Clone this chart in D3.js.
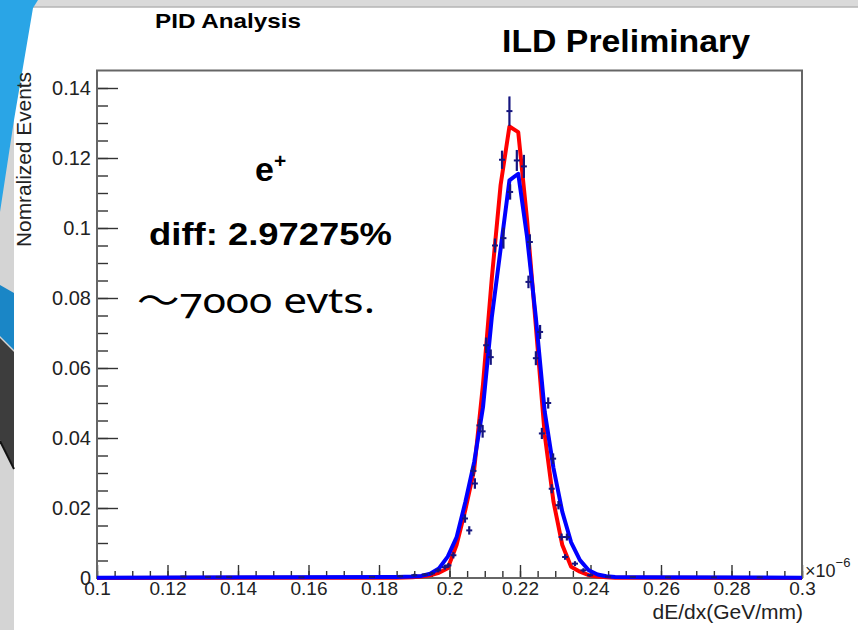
<!DOCTYPE html>
<html>
<head>
<meta charset="utf-8">
<script src="https://cdn.jsdelivr.net/npm/d3@7/dist/d3.min.js"></script>
<style>
  body { margin: 0; background: #fff; }
  svg { display: block; font-family: "Liberation Sans", Arial, Helvetica, sans-serif; }
</style>
</head>
<body>
<svg id="chart" width="858" height="630"></svg>
<script>
'use strict';

// bin centres of the two drawn curves (dE/dx, GeV/mm x1e-6)
var curveX = [0.100, 0.150, 0.185, 0.1895, 0.1920, 0.1945, 0.1970, 0.1995, 0.2020, 0.2045,
              0.2070, 0.2095, 0.2120, 0.2145, 0.2170, 0.2195, 0.2220, 0.2245, 0.2270, 0.2295,
              0.2320, 0.2345, 0.2370, 0.2395, 0.2420, 0.2445, 0.2470, 0.255, 0.300];

// red curve
var redY = [0.0000, 0.0001, 0.0001, 0.0002, 0.0004, 0.0008, 0.0015, 0.0028, 0.0094, 0.0195,
            0.0310, 0.0553, 0.0856, 0.1123, 0.1290, 0.1274, 0.1024, 0.0719, 0.0411, 0.0218,
            0.0094, 0.0032, 0.0018, 0.0008, 0.0004, 0.0002, 0.0001, 0.0001, 0.0000];

// blue curve
var blueY = [0.0001, 0.0002, 0.0003, 0.0004, 0.0006, 0.0012, 0.0027, 0.0061, 0.0116, 0.0217,
             0.0331, 0.0488, 0.0745, 0.0940, 0.1136, 0.1155, 0.0975, 0.0744, 0.0476, 0.0314,
             0.0189, 0.0102, 0.0051, 0.0022, 0.0010, 0.0005, 0.0003, 0.0002, 0.0001];

// histogram points with error bars (navy)
var pointX = [0.1245, 0.1315, 0.1345, 0.1375, 0.1580, 0.1780, 0.1860, 0.1900, 0.1930,
              0.1950, 0.1968, 0.1987, 0.1997, 0.2011, 0.2044, 0.2056, 0.2068, 0.2072, 0.2085,
              0.2094, 0.2104, 0.2117, 0.2129, 0.2153, 0.2149, 0.2170, 0.2172, 0.2191, 0.2211,
              0.2228, 0.2224, 0.2257, 0.2245, 0.2262, 0.2280, 0.2294, 0.2290, 0.2309, 0.2318,
              0.2333, 0.2328, 0.2356, 0.2380, 0.2399,
              0.2450, 0.2520, 0.2620, 0.2750, 0.2880];
var pointY = [0.0004, 0.0003, 0.0003, 0.0003, 0.0002, 0.0003, 0.0005, 0.0008, 0.0010,
              0.0013, 0.0022, 0.0031, 0.0036, 0.0065, 0.0170, 0.0136, 0.0306, 0.0270, 0.0436,
              0.0419, 0.0665, 0.0631, 0.0950, 0.0971, 0.1195, 0.1334, 0.1103, 0.1193, 0.1176,
              0.0960, 0.0846, 0.0703, 0.0628, 0.0413, 0.0500, 0.0341, 0.0255, 0.0208, 0.0117,
              0.0117, 0.0060, 0.0041, 0.0022, 0.0008,
              0.0004, 0.0003, 0.0002, 0.0002, 0.0002];
var pointErr = [0.0002, 0.0002, 0.0002, 0.0002, 0.0002, 0.0002, 0.0003, 0.0004, 0.0004,
                0.0005, 0.0006, 0.0007, 0.0007, 0.0009, 0.0012, 0.0012, 0.0015, 0.0015, 0.0018,
                0.0018, 0.0022, 0.0022, 0.0020, 0.0030, 0.0026, 0.0042, 0.0022, 0.0030, 0.0033,
                0.0022, 0.0018, 0.0020, 0.0020, 0.0016, 0.0016, 0.0015, 0.0013, 0.0012, 0.0010,
                0.0010, 0.0008, 0.0007, 0.0006, 0.0004,
                0.0002, 0.0002, 0.0002, 0.0002, 0.0002];

var xTicks = [0.1, 0.12, 0.14, 0.16, 0.18, 0.2, 0.22, 0.24, 0.26, 0.28, 0.3];
var xTickLabels = ['0.1', '0.12', '0.14', '0.16', '0.18', '0.2', '0.22', '0.24', '0.26', '0.28', '0.3'];
var yTicks = [0, 0.02, 0.04, 0.06, 0.08, 0.1, 0.12, 0.14];
var yTickLabels = ['0', '0.02', '0.04', '0.06', '0.08', '0.1', '0.12', '0.14'];


var svg = d3.select('#chart');

// Slide decoration (grey strip on top, coloured strip on the left)
function drawSlide() {
  svg.append('rect').attr('x', 0).attr('y', 0).attr('width', 858).attr('height', 630).attr('fill', '#fff');
  svg.append('rect').attr('x', 0).attr('y', 0).attr('width', 858).attr('height', 7).attr('fill', '#dadada');
  svg.append('line').attr('x1', 0).attr('x2', 858).attr('y1', 7).attr('y2', 7)
      .attr('stroke', '#b5b5b5').attr('stroke-width', 1.5);
  svg.append('rect').attr('x', 0).attr('y', 0).attr('width', 14).attr('height', 630).attr('fill', '#d4d4d4');

  var shapes = [
    { pts: [[0, 0], [38, 0], [33, 8], [14, 120], [0, 212]], fill: '#2aa5e6' },
    { pts: [[0, 285], [14, 293], [14, 350], [0, 336]], fill: '#1a86c6' },
    { pts: [[0, 338], [14, 352], [14, 468], [0, 440]], fill: '#3d3d3d' }
  ];
  shapes.forEach(function(s) {
    svg.append('polygon').attr('points', s.pts.join(' ')).attr('fill', s.fill);
  });
  svg.append('line').attr('x1', 0).attr('y1', 441).attr('x2', 14).attr('y2', 469)
      .attr('stroke', '#111').attr('stroke-width', 2);
}

drawSlide();

var x = d3.scaleLinear().domain([0.1, 0.3]).range([97, 802]);
var y = d3.scaleLinear().domain([0, 0.145]).range([578, 70.5]);

// Axes: minor ticks first, then major ticks with labels
function styleAxis(g, size) {
  g.select('.domain').remove();
  g.selectAll('.tick line').attr('stroke', '#333').attr('stroke-width', 1.4);
  g.selectAll('.tick text').attr('fill', '#222').style('font-size', size + 'px')
      .style('font-family', '"Liberation Sans", Arial, sans-serif');
}

svg.append('g').attr('transform', 'translate(0,578)')
    .call(d3.axisBottom(x).tickValues(d3.range(0.1, 0.3001, 0.005)).tickFormat('')
      .tickSizeInner(-7).tickSizeOuter(0))
    .call(styleAxis, 19);
svg.append('g').attr('transform', 'translate(0,578)')
    .call(d3.axisBottom(x).tickValues(xTicks).tickFormat(function(d, i) { return xTickLabels[i]; })
      .tickSizeInner(-13).tickSizeOuter(0).tickPadding(4))
    .call(styleAxis, 19);

svg.append('g').attr('transform', 'translate(97,0)')
    .call(d3.axisLeft(y).tickValues(d3.range(0, 0.1401, 0.005)).tickFormat('')
      .tickSizeInner(-11).tickSizeOuter(0))
    .call(styleAxis, 20);
svg.append('g').attr('transform', 'translate(97,0)')
    .call(d3.axisLeft(y).tickValues(yTicks).tickFormat(function(d, i) { return yTickLabels[i]; })
      .tickSizeInner(-21).tickSizeOuter(0).tickPadding(6))
    .call(styleAxis, 20);

// Frame
svg.append('rect')
    .attr('x', 97).attr('y', 70.5).attr('width', 705).attr('height', 507.5)
    .attr('fill', 'none').attr('stroke', '#666').attr('stroke-width', 2);

// Curves
var line = d3.line()
    .x(function(d) { return x(d[0]); })
    .y(function(d) { return y(d[1]); });

svg.append('path').datum(d3.zip(curveX, redY))
    .attr('d', line).attr('fill', 'none').attr('stroke', '#ff0000')
    .attr('stroke-width', 4).attr('stroke-linejoin', 'round');
svg.append('path').datum(d3.zip(curveX, blueY))
    .attr('d', line).attr('fill', 'none').attr('stroke', '#0000ff')
    .attr('stroke-width', 4).attr('stroke-linejoin', 'round');

// Error bar points
var points = d3.zip(pointX, pointY, pointErr);
var pts = svg.append('g').attr('stroke', '#15157f');
pts.selectAll('line.err').data(points).enter().append('line')
    .attr('class', 'err')
    .attr('x1', function(d) { return x(d[0]); })
    .attr('x2', function(d) { return x(d[0]); })
    .attr('y1', function(d) { return y(d[1] - d[2]); })
    .attr('y2', function(d) { return y(d[1] + d[2]); })
    .attr('stroke-width', 2.2);
pts.selectAll('line.mark').data(points).enter().append('line')
    .attr('class', 'mark')
    .attr('x1', function(d) { return x(d[0]) - 3; })
    .attr('x2', function(d) { return x(d[0]) + 3; })
    .attr('y1', function(d) { return y(d[1]); })
    .attr('y2', function(d) { return y(d[1]); })
    .attr('stroke-width', 2);

// Axis titles
svg.append('text').attr('x', 803).attr('y', 619).attr('text-anchor', 'end')
    .style('font-size', '21px').attr('fill', '#222').text('dE/dx(GeV/mm)');
svg.append('text').attr('transform', 'translate(31,72) rotate(-90)').attr('text-anchor', 'end')
    .style('font-size', '20px').attr('fill', '#222')
    .attr('textLength', 175).attr('lengthAdjust', 'spacingAndGlyphs').text('Nomralized Events');

var exp = svg.append('text').attr('x', 805).attr('y', 577).style('font-size', '18px').attr('fill', '#222');
exp.append('tspan').text('×10');
exp.append('tspan').attr('dy', -10).style('font-size', '13px').text('−6');

// Titles and labels
svg.append('text').attr('x', 155).attr('y', 28)
    .style('font-size', '21px').style('font-weight', 'bold')
    .attr('textLength', 146).attr('lengthAdjust', 'spacingAndGlyphs').text('PID Analysis');
svg.append('text').attr('x', 502).attr('y', 52)
    .style('font-size', '32px').style('font-weight', 'bold')
    .attr('textLength', 248).attr('lengthAdjust', 'spacingAndGlyphs').text('ILD Preliminary');

var ep = svg.append('text').attr('x', 255).attr('y', 181)
    .style('font-size', '34px').style('font-weight', 'bold');
ep.append('tspan').text('e');
ep.append('tspan').attr('dy', -13).style('font-size', '21px').text('+');

svg.append('text').attr('x', 149).attr('y', 245)
    .style('font-size', '31px').style('font-weight', 'bold')
    .attr('textLength', 243).attr('lengthAdjust', 'spacingAndGlyphs').text('diff: 2.97275%');

svg.append('text').attr('x', 137).attr('y', 313)
    .style('font-size', '34px').style('font-family', '"Noto Sans", "Noto Sans CJK SC", sans-serif')
    .style('font-feature-settings', '"onum"')
    .attr('textLength', 238).attr('lengthAdjust', 'spacingAndGlyphs').text('～7000 evts.');
</script>
</body>
</html>
